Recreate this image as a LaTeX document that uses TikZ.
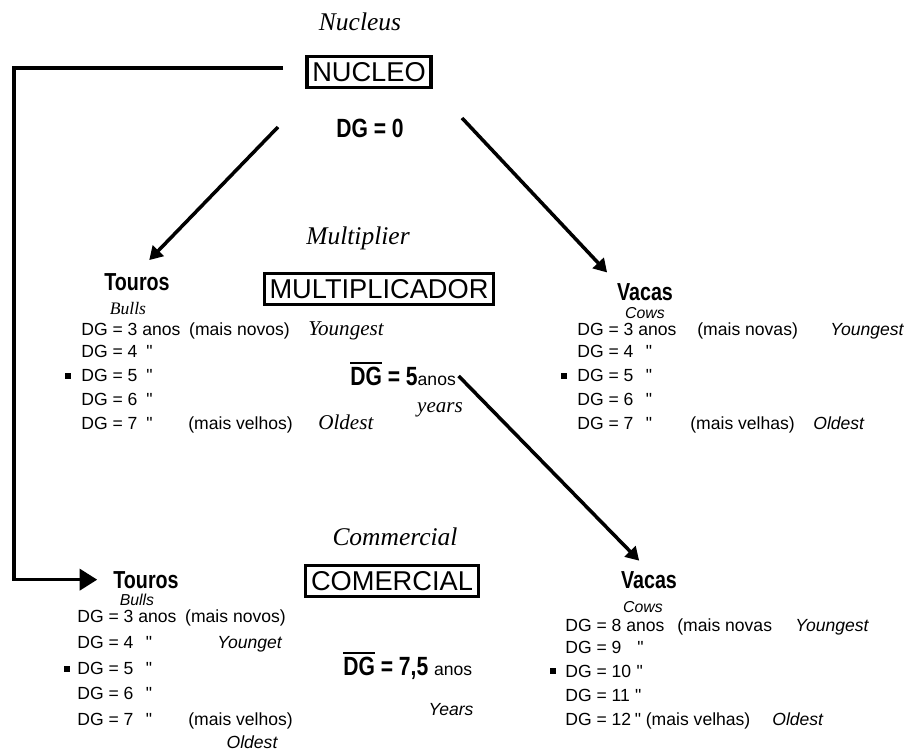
\documentclass[tikz,border=0pt]{standalone}
\usepackage{fontspec}
\setmainfont{Liberation Serif}
\setsansfont{Liberation Sans}
\newfontfamily\rowfont{Liberation Sans}
\newfontfamily\narrowsans[FakeStretch=0.8]{Liberation Sans}
\usetikzlibrary{arrows.meta}

\newcommand{\dgbar}{\vbox{\hrule height 1.6pt\kern1.2pt\hbox{DG}}}

\begin{document}
\begin{tikzpicture}[x=0.02cm,y=-0.02cm,
	every node/.style={inner sep=0pt},
	level/.style={draw,line width=1.8pt,inner sep=3pt,text height=11.5pt,text depth=0.5pt,font=\sffamily\fontsize{15.5}{17}\selectfont},
	stage/.style={anchor=base,font=\itshape\fontsize{14.5}{16}\selectfont},
	herd/.style={anchor=base,font=\narrowsans\bfseries\fontsize{14}{16}\selectfont},
	avg/.style={anchor=base west,font=\narrowsans\bfseries\fontsize{15}{17}\selectfont},
	row/.style={anchor=base west,font=\rowfont\fontsize{10}{12}\selectfont},
	engserif/.style={anchor=base west,font=\itshape\fontsize{12}{14}\selectfont},
	engsans/.style={anchor=base west,font=\sffamily\itshape\fontsize{10}{12}\selectfont},
	gloss/.style={anchor=base,font=\itshape\fontsize{10}{12}\selectfont},
	glosssans/.style={anchor=base,font=\sffamily\itshape\fontsize{9}{11}\selectfont},
	dot/.style={fill,minimum size=3pt},
	link/.style={line width=2pt,-{Triangle[length=7.5pt,width=8.5pt]}},
	feedlink/.style={line width=2pt,-{Triangle[length=10pt,width=12pt]}},
	]
	\useasboundingbox (0,0) rectangle (910,754);
	
	% nucleus
	\node[stage] (nucleus) at (360,30) {Nucleus};
	\node[level] (nucleo) at (369,72) {NUCLEO};
	\node[avg,anchor=base] (dg0) at (370,137) {DG = 0};
	
	% multiplier
	\node[stage] (multiplier) at (358,244) {Multiplier};
	\node[level] (multi) at (379,289) {MULTIPLICADOR};
	\node[avg] (dgm) at (350,385) {\dgbar{} = 5{\sffamily\mdseries\fontsize{10}{12}\selectfont anos}};
	\node[engserif,anchor=base] (yrs1) at (440,412) {years};
	
	\node[herd] (touros1) at (137,290) {Touros};
	\node[gloss] (bulls1) at (128,314) {Bulls};
	\node[row] (m1) at (81,335) {DG = 3 anos\hspace{5pt}(mais novos)};
	\node[engserif] (m1e) at (308,335) {Youngest};
	\node[row] (m2) at (81,357) {DG = 4\hspace{5pt}"};
	\node[dot] (m3b) at (68,376) {};
	\node[row] (m3) at (81,381) {DG = 5\hspace{5pt}"};
	\node[row] (m4) at (81,405) {DG = 6\hspace{5pt}"};
	\node[row] (m5) at (81,429) {DG = 7\hspace{5pt}"};
	\node[row] (m5p) at (188,429) {(mais velhos)};
	\node[engserif] (m5e) at (318,429) {Oldest};
	
	\node[herd] (vacas1) at (645,300) {Vacas};
	\node[glosssans] (cows1) at (645,318) {Cows};
	\node[row] (v1) at (577,335) {DG = 3 anos};
	\node[row] (v1p) at (697,335) {(mais novas)};
	\node[engsans] (v1e) at (830,335) {Youngest};
	\node[row] (v2) at (577,357) {DG = 4\hspace{7pt}"};
	\node[dot] (v3b) at (564,376) {};
	\node[row] (v3) at (577,381) {DG = 5\hspace{7pt}"};
	\node[row] (v4) at (577,405) {DG = 6\hspace{7pt}"};
	\node[row] (v5) at (577,429) {DG = 7\hspace{7pt}"};
	\node[row] (v5p) at (690,429) {(mais velhas)};
	\node[engsans] (v5e) at (813,429) {Oldest};
	
	% commercial
	\node[stage] (commercial) at (395,545) {Commercial};
	\node[level] (comer) at (392,581) {COMERCIAL};
	\node[avg] (dgc) at (343,675) {\dgbar{} = 7,5 {\sffamily\mdseries\fontsize{10}{12}\selectfont anos}};
	\node[engsans,anchor=base] (yrs2) at (451,715) {Years};
	
	\node[herd] (touros2) at (146,588) {Touros};
	\node[glosssans] (bulls2) at (137,605) {Bulls};
	\node[row] (c1) at (77,622) {DG = 3 anos\hspace{5pt}(mais novos)};
	\node[row] (c2) at (77,648) {DG = 4\hspace{7pt}"};
	\node[engsans] (c2e) at (217,648) {Younget};
	\node[dot] (c3b) at (67,669) {};
	\node[row] (c3) at (77,674) {DG = 5\hspace{7pt}"};
	\node[row] (c4) at (77,699) {DG = 6\hspace{7pt}"};
	\node[row] (c5) at (77,725) {DG = 7\hspace{7pt}"};
	\node[row] (c5p) at (188,725) {(mais velhos)};
	\node[engsans,anchor=base] (c5e) at (252,748) {Oldest};
	
	\node[herd] (vacas2) at (649,588) {Vacas};
	\node[glosssans] (cows2) at (643,612) {Cows};
	\node[row] (w1) at (565,631) {DG = 8 anos};
	\node[row] (w1p) at (677,631) {(mais novas};
	\node[engsans] (w1e) at (795,631) {Youngest};
	\node[row] (w2) at (565,653) {DG = 9\hspace{9pt}"};
	\node[dot] (w3b) at (553,671) {};
	\node[row] (w3) at (565,677) {DG = 10\hspace{3pt}"};
	\node[row] (w4) at (565,701) {DG = 11\hspace{3pt}"};
	\node[row] (w5) at (565,725) {DG = 12\hspace{2pt}" (mais velhas)};
	\node[engsans] (w5e) at (772,725) {Oldest};
	
	% connectors
	\coordinate (nl) at (278,127);
	\coordinate (nr) at (462,118);
	\coordinate (feed) at (283,68);
	\coordinate (bend) at (14,68);
	
	\draw[link,shorten >=10pt] (nl) -- (touros1.north);
	\draw[link,shorten >=8pt] (nr) -- (vacas1.north west);
	\draw[link,shorten <=2pt,shorten >=8pt] (dgm.east) -- (vacas2.north);
	\draw[feedlink,shorten >=9pt] (feed) -- (bend) |- (touros2.west);
	
\end{tikzpicture}
\end{document}
